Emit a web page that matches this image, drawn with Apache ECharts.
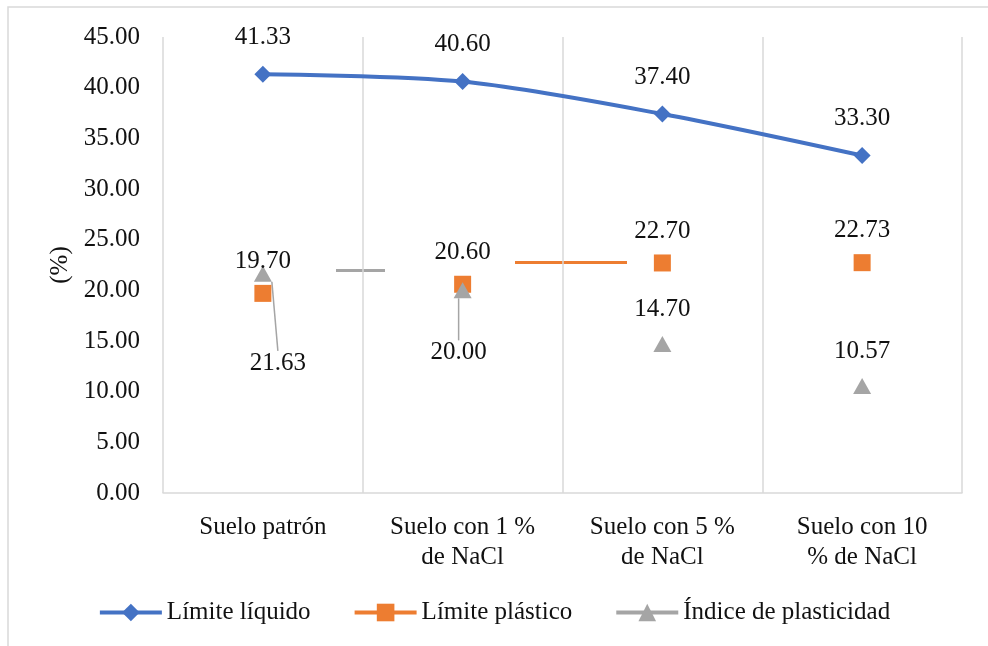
<!DOCTYPE html>
<html><head><meta charset="utf-8">
<script src="https://cdn.jsdelivr.net/npm/echarts@6/dist/echarts.min.js"></script>
<style>html,body{margin:0;padding:0;background:#fff}#c{width:988px;height:646px}</style>
</head><body><div id="c"></div>
<script>
const categories = ['Suelo patrón', 'Suelo con 1 %\nde NaCl', 'Suelo con 5 %\nde NaCl', 'Suelo con 10\n% de NaCl'];
const limiteLiquido = [41.33, 40.60, 37.40, 33.30];
const limitePlastico = [19.70, 20.60, 22.70, 22.73];
const indicePlasticidad = [21.63, 20.00, 14.70, 10.57];
const seriesNames = ['Límite líquido', 'Límite plástico', 'Índice de plasticidad'];
const yTicks = { min: 0, max: 45, interval: 5 };

const FONT = 'Liberation Serif';
const FS = 25;
const chart = echarts.init(document.getElementById('c'), null, { renderer: 'canvas' });
const lbl = { show: true, position: 'top', fontFamily: FONT, fontSize: FS, color: '#111', formatter: p => p.value.toFixed(2) };

chart.setOption({
  animation: false,
  backgroundColor: '#fff',
  textStyle: { fontFamily: FONT },
  grid: { left: 163, right: 26, top: 37, bottom: 153 },
  xAxis: {
    type: 'category', data: categories, boundaryGap: true,
    axisLine: { show: true, lineStyle: { color: '#d9d9d9', width: 1.5 } },
    axisTick: { show: false },
    splitLine: { show: true, lineStyle: { color: '#d9d9d9', width: 1.5 } },
    axisLabel: { fontFamily: FONT, fontSize: FS, color: '#111', margin: 19, lineHeight: 30, interval: 0 }
  },
  yAxis: {
    type: 'value', min: yTicks.min, max: yTicks.max, interval: yTicks.interval,
    name: '(%)', nameLocation: 'middle', nameGap: 90, nameRotate: 90,
    nameTextStyle: { fontFamily: FONT, fontSize: FS, color: '#111' },
    axisLine: { show: false }, axisTick: { show: false }, splitLine: { show: false },
    axisLabel: { fontFamily: FONT, fontSize: FS, color: '#111', margin: 23, formatter: v => v.toFixed(2) }
  },
  legend: {
    bottom: 16, left: 'center', itemGap: 42, itemWidth: 62, itemHeight: 22,
    textStyle: { fontFamily: FONT, fontSize: FS, color: '#111' },
    data: [
      { name: seriesNames[0], lineStyle: { opacity: 1, width: 4, color: '#4472C4' } },
      { name: seriesNames[1], lineStyle: { opacity: 1, width: 4, color: '#ED7D31' } },
      { name: seriesNames[2], lineStyle: { opacity: 1, width: 4, color: '#A5A5A5' } }
    ]
  },
  graphic: [
    { type: 'rect', shape: { x: 8, y: 7, width: 990, height: 660 }, style: { fill: 'none', stroke: '#d9d9d9', lineWidth: 1.5 }, silent: true },
    { type: 'line', shape: { x1: 336, y1: 270.5, x2: 385, y2: 270.5 }, style: { stroke: '#A5A5A5', lineWidth: 3 }, silent: true },
    { type: 'line', shape: { x1: 515, y1: 262.5, x2: 627, y2: 262.5 }, style: { stroke: '#ED7D31', lineWidth: 3 }, silent: true }
  ],
  series: [
    {
      name: seriesNames[0], type: 'line', data: limiteLiquido, smooth: 0.3,
      symbol: 'diamond', symbolSize: 17,
      lineStyle: { color: '#4472C4', width: 4 }, itemStyle: { color: '#4472C4' },
      label: Object.assign({}, lbl, { distance: 16 })
    },
    {
      name: seriesNames[1], type: 'line', data: limitePlastico,
      symbol: 'rect', symbolSize: 17,
      lineStyle: { opacity: 0, width: 0, color: '#ED7D31' }, itemStyle: { color: '#ED7D31' },
      label: Object.assign({}, lbl, { distance: 11 })
    },
    {
      name: seriesNames[2], type: 'line', z: 3,
      data: indicePlasticidad.map((v, i) => i < 2 ? { value: v, labelLine: { show: true } } : v),
      symbol: 'triangle', symbolSize: [18, 16],
      lineStyle: { opacity: 0, width: 0, color: '#A5A5A5' }, itemStyle: { color: '#A5A5A5' },
      label: Object.assign({}, lbl, { distance: 14 }),
      labelLine: { show: false, lineStyle: { color: '#A5A5A5', width: 1.5 } },
      labelLayout: function (p) {
        if (p.dataIndex === 0) return { dx: 15, dy: 124 };
        if (p.dataIndex === 1) return { dx: -4, dy: 97 };
        return {};
      }
    }
  ]
});
</script></body></html>
